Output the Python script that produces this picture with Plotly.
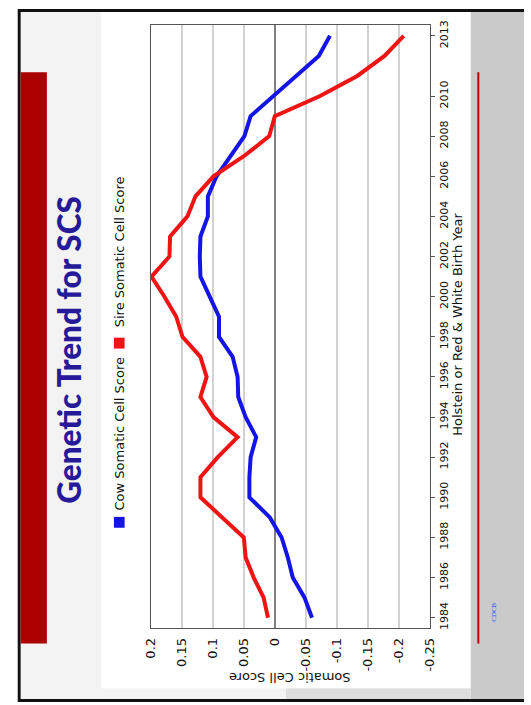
import plotly.graph_objects as go

# Birth years and genetic trend values (Somatic Cell Score)
years = list(range(1984, 2014))
cow_scs = [-0.060, -0.048, -0.029, -0.021, -0.011, 0.008, 0.041, 0.041, 0.039, 0.030,
           0.047, 0.059, 0.060, 0.068, 0.090, 0.090, 0.105, 0.120, 0.121, 0.120,
           0.108, 0.108, 0.094, 0.071, 0.049, 0.039, 0.003, -0.034, -0.071, -0.089]
sire_scs = [0.011, 0.018, 0.034, 0.047, 0.050, 0.084, 0.120, 0.120, 0.092, 0.060,
            0.099, 0.120, 0.110, 0.120, 0.149, 0.159, 0.178, 0.199, 0.170, 0.169,
            0.141, 0.128, 0.099, 0.050, 0.009, 0.000, -0.073, -0.133, -0.177, -0.208]

year_ticks = [1984, 1986, 1988, 1990, 1992, 1994, 1996, 1998, 2000, 2002, 2004, 2006, 2008, 2010, 2013]
scs_ticks = [0.2, 0.15, 0.1, 0.05, 0, -0.05, -0.1, -0.15, -0.2, -0.25]
scs_labels = ["0.2", "0.15", "0.1", "0.05", "0", "-0.05", "-0.1", "-0.15", "-0.2", "-0.25"]

series_names = ["Cow Somatic Cell Score", "Sire Somatic Cell Score"]
series_colors = ["#1414e6", "#ee1414"]

W, H = 531, 705


def px(x):
    return x / W


def py(y):
    return 1 - y / H


fig = go.Figure()
for name, vals, col in zip(series_names, [cow_scs, sire_scs], series_colors):
    fig.add_trace(go.Scatter(x=vals, y=years, mode="lines", name=name,
                             line=dict(color=col, width=4), showlegend=False))

# Slide decoration (page frame, panels, accent bars)
shapes = []


def rect(x0, y0, x1, y1, color):
    shapes.append(dict(type="rect", xref="paper", yref="paper",
                       x0=px(x0), x1=px(x1), y0=py(y1), y1=py(y0),
                       fillcolor=color, line=dict(width=0), layer="below"))


rect(10, 4, 531, 704, "#111111")
rect(13, 7, 531, 701, "#f3f3f3")
rect(476, 7, 531, 701, "#cacaca")
rect(286, 690, 476, 701, "#dedede")
rect(96, 7, 476, 690, "#ffffff")
rect(13, 68, 40, 645, "#ab0000")
shapes.append(dict(type="line", xref="paper", yref="paper",
                   x0=px(484), x1=px(484), y0=py(68), y1=py(645),
                   line=dict(color="#bb0000", width=2)))

# Rotated legend keys
rect(109, 517, 120, 528, series_colors[0])
rect(109, 336, 120, 347, series_colors[1])

annotations = [
    dict(text="Genetic Trend for SCS", x=px(62), y=py(348), textangle=-90,
         font=dict(family="Lato, Liberation Sans, sans-serif", weight=900,
                   size=31.5, color="#261a99")),
    dict(text=series_names[0], x=px(115), y=py(433), textangle=-90,
         font=dict(family="DejaVu Sans", size=13, color="#111111")),
    dict(text=series_names[1], x=px(115), y=py(249), textangle=-90,
         font=dict(family="DejaVu Sans", size=13, color="#111111")),
    dict(text="Holstein or Red &amp; White Birth Year", x=px(463), y=py(322), textangle=-90,
         font=dict(family="DejaVu Sans", size=13, color="#111111")),
    dict(text="Somatic Cell Score", x=px(290), y=py(679), textangle=180,
         font=dict(family="DejaVu Sans", size=13, color="#111111")),
    dict(text="CDCB", x=px(500), y=py(613), textangle=-90,
         font=dict(family="Liberation Serif", size=7, color="#3355ff")),
]
for a in annotations:
    a.update(xref="paper", yref="paper", xanchor="center", yanchor="middle",
             showarrow=False)

fig.update_layout(
    width=W, height=H,
    margin=dict(l=0, r=0, t=0, b=0),
    paper_bgcolor="#ffffff",
    plot_bgcolor="#ffffff",
    shapes=shapes,
    annotations=annotations,
    xaxis=dict(domain=[px(147), px(434)], range=[0.2, -0.25],
               tickvals=scs_ticks, ticktext=scs_labels, tickangle=-90,
               ticklabelstandoff=4,
               tickfont=dict(family="DejaVu Sans", size=13, color="#111111"),
               showgrid=True, gridcolor="#d2d2d2", gridwidth=1.5,
               zeroline=True, zerolinecolor="#808080", zerolinewidth=1.5,
               showline=True, linecolor="#555555", linewidth=1, mirror=True),
    yaxis=dict(domain=[py(629), py(20)], range=[1983.5, 2013.55], side="right",
               tickvals=year_ticks, ticktext=[str(y) for y in year_ticks],
               tickangle=-90, ticks="outside", ticklen=4, tickcolor="#555555",
               tickfont=dict(family="DejaVu Sans", size=11, color="#111111"),
               showgrid=False, zeroline=False,
               showline=True, linecolor="#555555", linewidth=1, mirror=True),
)

fig.write_html("out.html")
